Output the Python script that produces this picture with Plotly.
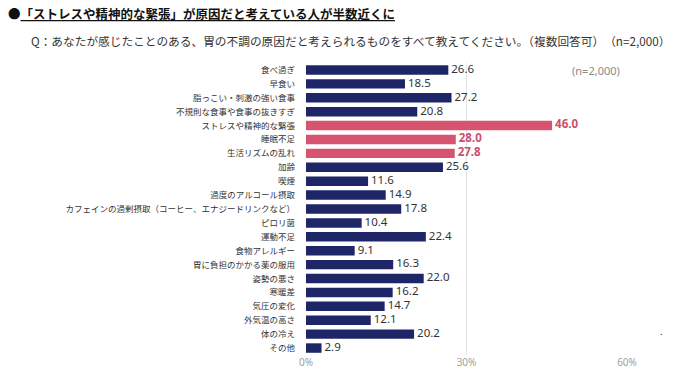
import plotly.graph_objects as go

categories = [
    "食べ過ぎ", "早食い", "脂っこい・刺激の強い食事", "不規則な食事や食事の抜きすぎ",
    "ストレスや精神的な緊張", "睡眠不足", "生活リズムの乱れ", "加齢", "喫煙",
    "過度のアルコール摂取", "カフェインの過剰摂取（コーヒー、エナジードリンクなど）",
    "ピロリ菌", "運動不足", "食物アレルギー", "胃に負担のかかる薬の服用", "姿勢の悪さ",
    "寒暖差", "気圧の変化", "外気温の高さ", "体の冷え", "その他",
]
values = [26.6, 18.5, 27.2, 20.8, 46.0, 28.0, 27.8, 25.6, 11.6, 14.9, 17.8,
          10.4, 22.4, 9.1, 16.3, 22.0, 16.2, 14.7, 12.1, 20.2, 2.9]
highlighted = ["ストレスや精神的な緊張", "睡眠不足", "生活リズムの乱れ"]
x_ticks = [0, 30, 60]
x_tick_labels = ["0%", "30%", "60%"]

NAVY = "#1F2668"
PINK = "#D6546F"
PINK_TEXT = "#C9506B"

bar_colors = [PINK if c in highlighted else NAVY for c in categories]
text_colors = [PINK_TEXT if c in highlighted else "#333333" for c in categories]
texts = [f" <b>{v:.1f}</b>" if c in highlighted else f" {v:.1f}" for c, v in zip(categories, values)]

fig = go.Figure()
fig.add_trace(go.Bar(
    x=values, y=categories, orientation="h",
    marker=dict(color=bar_colors, line=dict(width=0)),
    width=0.68,
    hoverinfo="skip",
))
fig.add_trace(go.Scatter(
    x=values, y=categories, mode="text",
    text=texts, textposition="middle right", cliponaxis=False,
    textfont=dict(color=text_colors, size=11.5, family="Noto Sans, sans-serif"),
    hoverinfo="skip",
))

n = len(categories)
fig.update_layout(
    width=690, height=380,
    margin=dict(l=306, r=63, t=63, b=25, autoexpand=False),
    paper_bgcolor="white", plot_bgcolor="white",
    showlegend=False,
    font=dict(family="Noto Sans CJK JP, sans-serif", color="#333333"),
    xaxis=dict(
        range=[0, 60], tickvals=x_ticks, ticktext=x_tick_labels,
        showgrid=True, gridcolor="#E3E3E3", gridwidth=1,
        zeroline=True, zerolinecolor="white", zerolinewidth=1,
        showline=False, ticks="", automargin=False,
        tickfont=dict(size=10, color="#A0A0A0", family="Noto Sans, sans-serif"),
        fixedrange=True,
    ),
    yaxis=dict(
        range=[n - 0.5, -0.5], showgrid=False, showline=False, ticks="",
        automargin=False,
        tickfont=dict(size=8.5, color="#333333", family="Noto Sans CJK JP, sans-serif"),
        ticklabelstandoff=10,
        fixedrange=True,
    ),
    bargap=0.3,
)

fig.add_annotation(
    xref="paper", yref="paper", x=-300/321, y=1 + (63 - 14) / 292,
    xanchor="left", yanchor="middle",
    text="●<b><u>「ストレスや精神的な緊張」が原因だと考えている人が半数近くに</u></b>",
    showarrow=False, font=dict(size=12.5, color="#111111", family="Noto Sans CJK JP, sans-serif"),
)
fig.add_annotation(
    xref="paper", yref="paper", x=-(306 - 29)/321, y=1 + (63 - 40) / 292,
    xanchor="left", yanchor="middle",
    text="Q：あなたが感じたことのある、胃の不調の原因だと考えられるものをすべて教えてください。（複数回答可）　（n=2,000）",
    showarrow=False, font=dict(size=11.7, color="#333333", family="Noto Sans CJK JP, sans-serif"),
)
fig.add_annotation(
    xref="paper", yref="paper", x=(622 - 306)/321, y=1 - (70 - 63) / 292,
    xanchor="right", yanchor="middle",
    text="(n=2,000)", showarrow=False,
    font=dict(size=11, color="#8A8A8A", family="Noto Sans, sans-serif"),
)
fig.add_annotation(
    xref="paper", yref="paper", x=(661 - 306)/321, y=1 - (330 - 63) / 292,
    xanchor="center", yanchor="middle",
    text=".", showarrow=False,
    font=dict(size=10, color="#333333"),
)

fig.write_html("out.html", config={"displayModeBar": False},
               post_script="document.body.style.margin='0';")
